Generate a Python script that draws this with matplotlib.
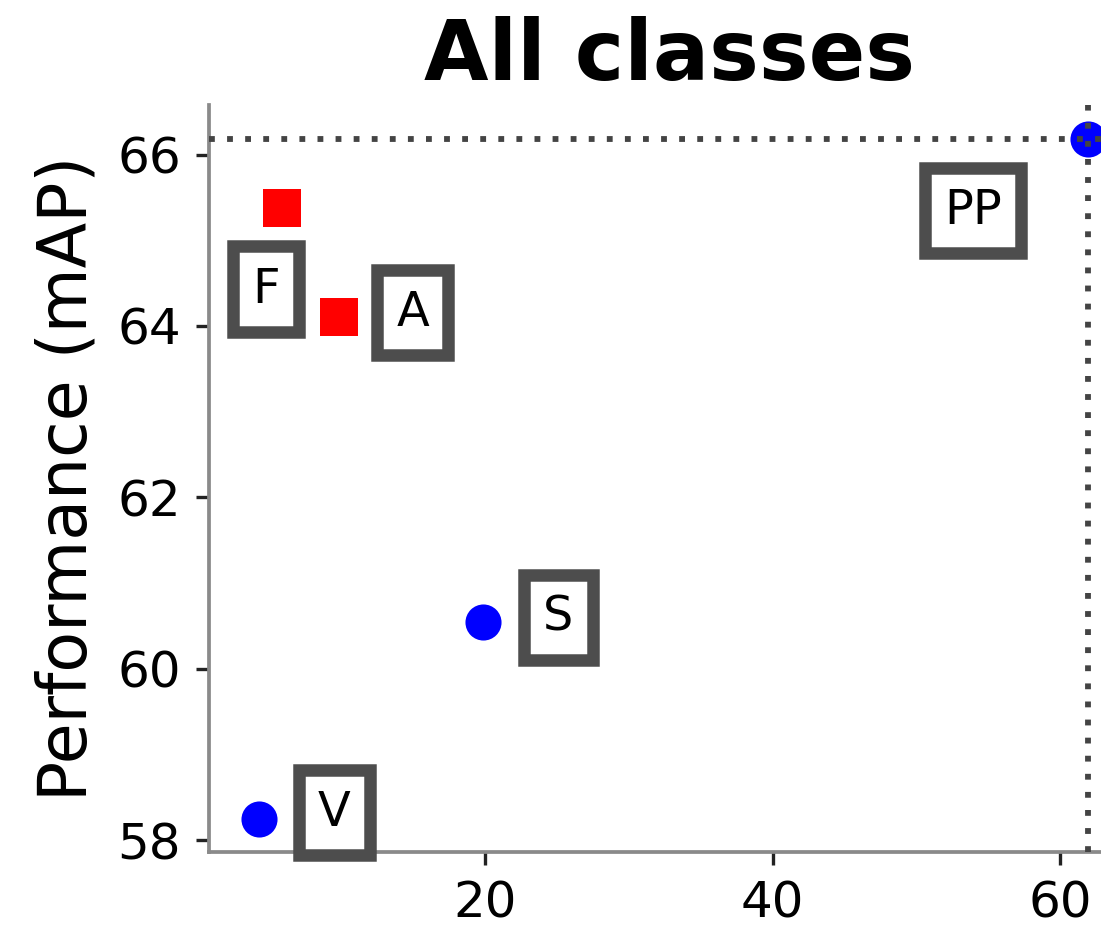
import matplotlib
matplotlib.use("Agg")
import matplotlib.pyplot as plt

# Method results: compute cost (x) vs. performance (mAP)
labels = ["F", "A", "S", "V", "PP"]
cost = [5.9, 9.9, 19.9, 4.3, 61.9]
perf = [65.38, 64.10, 60.55, 58.25, 66.18]
group = ["red", "red", "blue", "blue", "blue"]

# label offsets (data units) from each point
label_dx = [-1.1, 5.1, 5.2, 5.25, -8.0]
label_dy = [-0.95, 0.06, 0.05, 0.07, -0.83]

best_cost = 61.9
best_perf = 66.18

fig = plt.figure(figsize=(1101 / 300, 928 / 300), dpi=300)
ax = fig.add_axes([0.1898, 0.0819, 0.8374, 0.805])

for x, y, g in zip(cost, perf, group):
    if g == "red":
        ax.scatter(x, y, marker="s", s=85, color="red", zorder=3, linewidths=0)
    else:
        ax.scatter(x, y, marker="o", s=75, color="blue", zorder=3, linewidths=0)

ax.axhline(best_perf, color="#444444", linestyle=(0, (1, 2.1)), lw=1.4, zorder=4)
ax.axvline(best_cost, color="#444444", linestyle=(0, (1, 2.1)), lw=1.4, zorder=4)

for lab, x, y, dx, dy in zip(labels, cost, perf, label_dx, label_dy):
    ax.text(x + dx, y + dy, lab, fontsize=11.5, ha="center", va="center",
            zorder=5,
            bbox=dict(boxstyle="square,pad=0.4", facecolor="white",
                      edgecolor="#4d4d4d", linewidth=3))

ax.set_xlim(0.83, 64.9)
ax.set_ylim(57.86, 66.58)
ax.set_xticks([20, 40, 60])
ax.set_yticks([58, 60, 62, 64, 66])
ax.tick_params(labelsize=12, length=3.2, width=0.8, color="#222222")

for side in ["top", "right"]:
    ax.spines[side].set_visible(False)
for side in ["left", "bottom"]:
    ax.spines[side].set_color("#8a8a8a")
    ax.spines[side].set_linewidth(0.9)

ax.set_ylabel("Performance (mAP)", fontsize=16)
ax.set_title("All classes", fontsize=20, fontweight="bold")

fig.savefig("out.png", dpi=300)
